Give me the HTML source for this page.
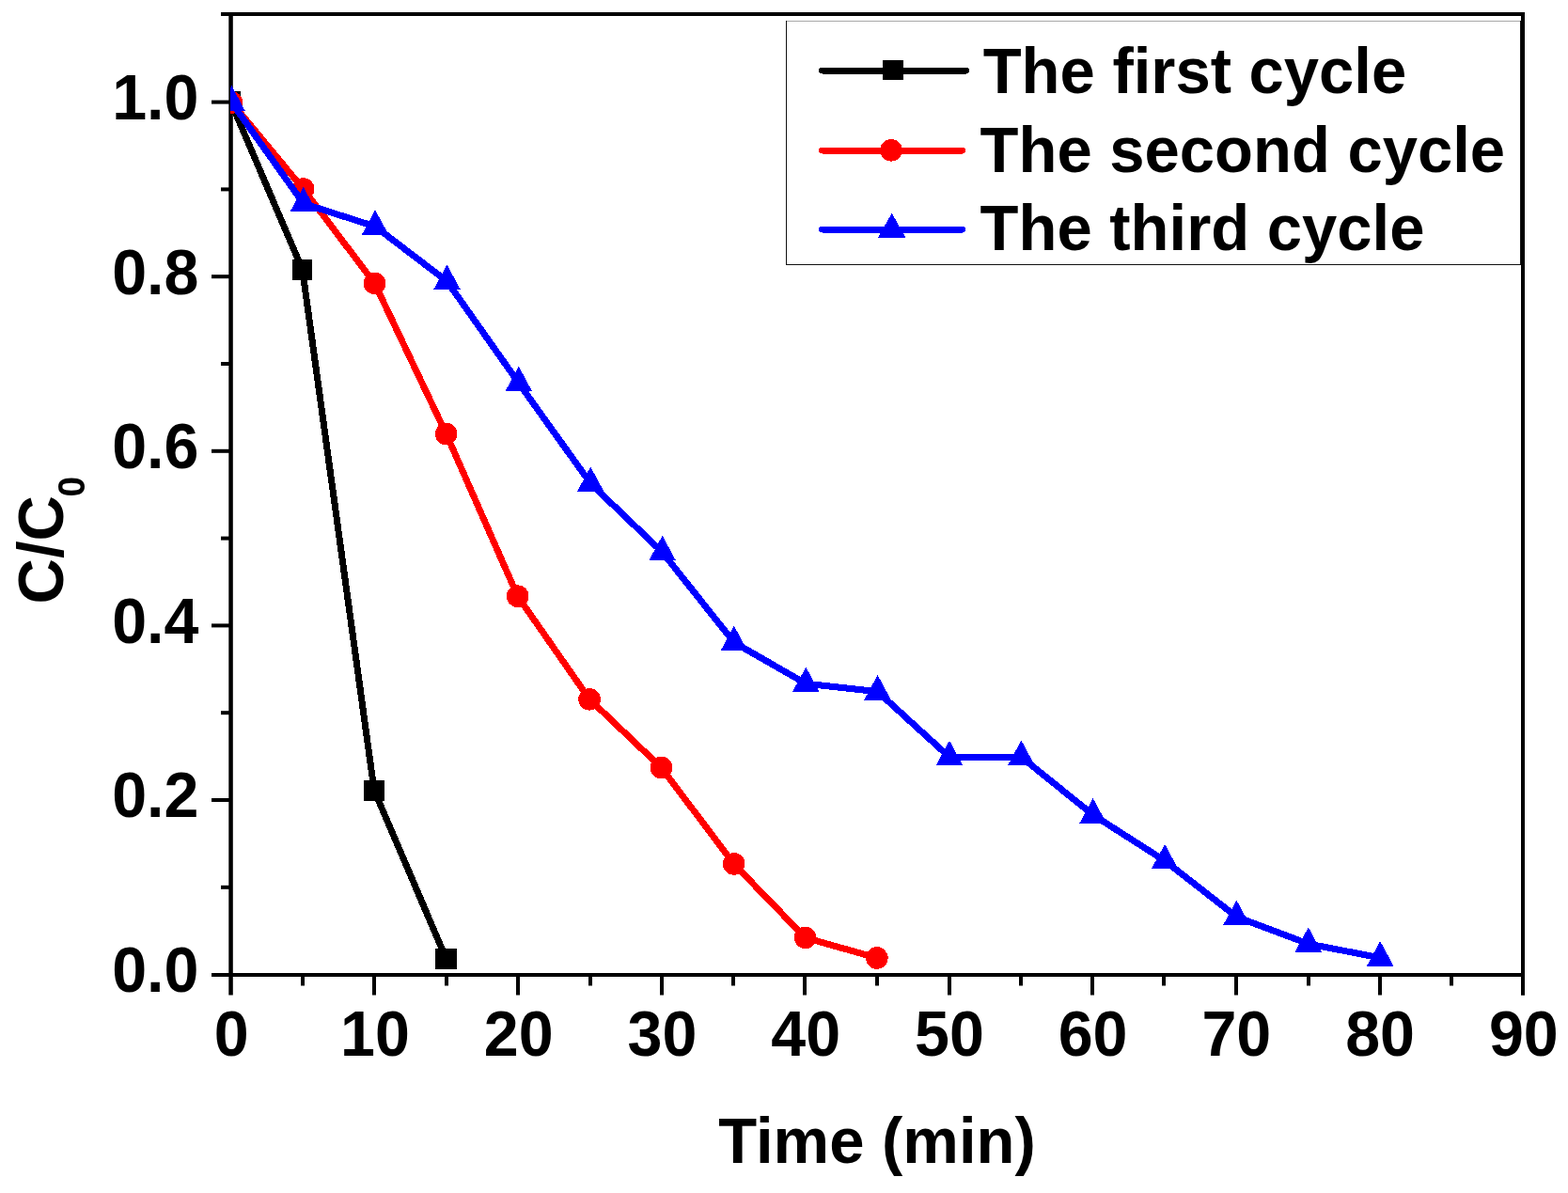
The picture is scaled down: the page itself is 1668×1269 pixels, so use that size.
<!DOCTYPE html>
<html lang="en"><head><meta charset="utf-8"><title>C/C0 versus Time</title>
<style>
html,body{margin:0;padding:0;background:#fff;}
body{width:1668px;height:1269px;overflow:hidden;}
svg{display:block;}
text{font-family:"Liberation Sans",sans-serif;font-weight:bold;fill:#000;}
.ax{fill:#000;shape-rendering:crispEdges;}
.ln{fill:none;stroke-width:7;stroke-linejoin:round;stroke-linecap:round;}
</style></head><body>
<svg width="1668" height="1269" viewBox="0 0 1668 1269">
<rect x="0" y="0" width="1668" height="1269" fill="#fff"/>
<defs><clipPath id="plot2"><rect x="245" y="17" width="1400" height="1030"/></clipPath></defs>
<g class="ax">
<rect x="235" y="13" width="1387" height="4"/>
<rect x="225" y="1035" width="1397" height="4"/>
<rect x="243.3" y="13" width="4.5" height="1045.5" shape-rendering="auto"/>
<rect x="1618" y="13" width="4" height="1045.5" shape-rendering="auto"/>
<rect x="235" y="941.8" width="10" height="4" shape-rendering="auto"/>
<rect x="225" y="849.0" width="20" height="4" shape-rendering="auto"/>
<rect x="235" y="756.2" width="10" height="4" shape-rendering="auto"/>
<rect x="225" y="663.4" width="20" height="4" shape-rendering="auto"/>
<rect x="235" y="570.6" width="10" height="4" shape-rendering="auto"/>
<rect x="225" y="477.8" width="20" height="4" shape-rendering="auto"/>
<rect x="235" y="385.0" width="10" height="4" shape-rendering="auto"/>
<rect x="225" y="292.2" width="20" height="4" shape-rendering="auto"/>
<rect x="235" y="199.4" width="10" height="4" shape-rendering="auto"/>
<rect x="225" y="106.6" width="20" height="4" shape-rendering="auto"/>
<rect x="320" y="1038" width="4" height="10.5" shape-rendering="auto"/>
<rect x="396" y="1038" width="4" height="20.5" shape-rendering="auto"/>
<rect x="473" y="1038" width="4" height="10.5" shape-rendering="auto"/>
<rect x="549" y="1038" width="4" height="20.5" shape-rendering="auto"/>
<rect x="626" y="1038" width="4" height="10.5" shape-rendering="auto"/>
<rect x="702" y="1038" width="4" height="20.5" shape-rendering="auto"/>
<rect x="778" y="1038" width="4" height="10.5" shape-rendering="auto"/>
<rect x="854" y="1038" width="4" height="20.5" shape-rendering="auto"/>
<rect x="931" y="1038" width="4" height="10.5" shape-rendering="auto"/>
<rect x="1008" y="1038" width="4" height="20.5" shape-rendering="auto"/>
<rect x="1084" y="1038" width="4" height="10.5" shape-rendering="auto"/>
<rect x="1160" y="1038" width="4" height="20.5" shape-rendering="auto"/>
<rect x="1236" y="1038" width="4" height="10.5" shape-rendering="auto"/>
<rect x="1313" y="1038" width="4" height="20.5" shape-rendering="auto"/>
<rect x="1390" y="1038" width="4" height="10.5" shape-rendering="auto"/>
<rect x="1466" y="1038" width="4" height="20.5" shape-rendering="auto"/>
<rect x="1542" y="1038" width="4" height="10.5" shape-rendering="auto"/>
</g>
<g font-size="69">
<text transform="translate(211.4 1055) scale(0.962 1)" text-anchor="end">0.0</text>
<text transform="translate(211.4 869) scale(0.962 1)" text-anchor="end">0.2</text>
<text transform="translate(211.4 684) scale(0.962 1)" text-anchor="end">0.4</text>
<text transform="translate(211.4 498) scale(0.962 1)" text-anchor="end">0.6</text>
<text transform="translate(211.4 313) scale(0.962 1)" text-anchor="end">0.8</text>
<text transform="translate(211.4 127) scale(0.962 1)" text-anchor="end">1.0</text>
<text transform="translate(246.3 1123) scale(0.962 1)" text-anchor="middle">0</text>
<text transform="translate(399.0 1123) scale(0.962 1)" text-anchor="middle">10</text>
<text transform="translate(551.7 1123) scale(0.962 1)" text-anchor="middle">20</text>
<text transform="translate(704.5 1123) scale(0.962 1)" text-anchor="middle">30</text>
<text transform="translate(857.2 1123) scale(0.962 1)" text-anchor="middle">40</text>
<text transform="translate(1009.9 1123) scale(0.962 1)" text-anchor="middle">50</text>
<text transform="translate(1162.6 1123) scale(0.962 1)" text-anchor="middle">60</text>
<text transform="translate(1315.3 1123) scale(0.962 1)" text-anchor="middle">70</text>
<text transform="translate(1468.1 1123) scale(0.962 1)" text-anchor="middle">80</text>
<text transform="translate(1620.8 1123) scale(0.962 1)" text-anchor="middle">90</text>
</g>
<text font-size="69" transform="translate(933 1236.5) scale(0.971 1)" text-anchor="middle">Time (min)</text>
<text font-size="69" transform="translate(67.3 642.5) rotate(-90) scale(0.971 1)">C/C<tspan font-size="40" dy="23" dx="-1.5">0</tspan></text>
<g clip-path="url(#plot2)" shape-rendering="crispEdges">
<polyline class="ln" stroke="#000" points="245.6,108.6 321.7,286.7 398,840.5 474.6,1019.7"/>
<rect x="234" y="97" width="22" height="22" fill="#000"/>
<rect x="311" y="276" width="21" height="22" fill="#000"/>
<rect x="387" y="830" width="22" height="22" fill="#000"/>
<rect x="463" y="1009" width="23" height="22" fill="#000"/>
<polyline class="ln" stroke="#f00" points="246.4,109 322.6,201 398.5,301.3 474.7,461.6 550.7,634.2 627.1,743.8 703.5,816.5 780.6,918.9 856.6,997.4 932.8,1019"/>
<circle cx="246.4" cy="109" r="11.8" fill="#f00"/>
<circle cx="322.6" cy="201" r="11.8" fill="#f00"/>
<circle cx="398.5" cy="301.3" r="11.8" fill="#f00"/>
<circle cx="474.7" cy="461.6" r="11.8" fill="#f00"/>
<circle cx="550.7" cy="634.2" r="11.8" fill="#f00"/>
<circle cx="627.1" cy="743.8" r="11.8" fill="#f00"/>
<circle cx="703.5" cy="816.5" r="11.8" fill="#f00"/>
<circle cx="780.6" cy="918.9" r="11.8" fill="#f00"/>
<circle cx="856.6" cy="997.4" r="11.8" fill="#f00"/>
<circle cx="932.8" cy="1019" r="11.8" fill="#f00"/>
<polyline class="ln" stroke="#00f" points="246.4,109 322.8,216.5 399.1,240.9 475.5,299.2 551.8,407.4 628.2,514.2 704.6,587.4 780.9,683.4 857.3,727.2 933.6,735.7 1010,805.3 1086.4,805.2 1162.7,866.8 1239.1,915.6 1315.4,975.2 1391.8,1004 1468.2,1018.8"/>
<polygon points="246.4,91.3 260.7,117.8 232.1,117.8" fill="#00f"/>
<polygon points="322.8,198.8 337.1,225.3 308.5,225.3" fill="#00f"/>
<polygon points="399.1,223.2 413.4,249.7 384.8,249.7" fill="#00f"/>
<polygon points="475.5,281.5 489.8,308 461.2,308" fill="#00f"/>
<polygon points="551.8,389.7 566.1,416.2 537.5,416.2" fill="#00f"/>
<polygon points="628.2,496.5 642.5,523 613.9,523" fill="#00f"/>
<polygon points="704.6,569.7 718.9,596.2 690.3,596.2" fill="#00f"/>
<polygon points="780.9,665.7 795.2,692.2 766.6,692.2" fill="#00f"/>
<polygon points="857.3,709.5 871.6,736 843,736" fill="#00f"/>
<polygon points="933.6,718 947.9,744.5 919.3,744.5" fill="#00f"/>
<polygon points="1010,787.6 1024.3,814.1 995.7,814.1" fill="#00f"/>
<polygon points="1086.4,787.5 1100.7,814 1072.1,814" fill="#00f"/>
<polygon points="1162.7,849.1 1177,875.6 1148.4,875.6" fill="#00f"/>
<polygon points="1239.1,897.9 1253.4,924.4 1224.8,924.4" fill="#00f"/>
<polygon points="1315.4,957.5 1329.7,984 1301.1,984" fill="#00f"/>
<polygon points="1391.8,986.3 1406.1,1012.8 1377.5,1012.8" fill="#00f"/>
<polygon points="1468.2,1001.1 1482.5,1027.6 1453.9,1027.6" fill="#00f"/>
</g>
<g shape-rendering="crispEdges">
<rect x="836" y="22" width="782" height="260" fill="#fff"/>
<rect x="836" y="22" width="782" height="1" fill="#a8a8a8"/>
<rect x="836" y="281" width="782" height="1" fill="#111"/>
<rect x="836" y="22" width="1" height="260" fill="#111"/>
<rect x="1617" y="22" width="1" height="260" fill="#111"/>
<rect x="1618" y="13" width="4" height="1045.5" shape-rendering="auto" fill="#000"/>
</g>
<g shape-rendering="crispEdges">
<line class="ln" stroke="#000" x1="874.5" y1="75" x2="1027.5" y2="75"/>
<rect x="939" y="63.5" width="22" height="21" fill="#000"/>
<line class="ln" stroke="#f00" x1="874.5" y1="160" x2="1023.5" y2="160"/>
<circle cx="948" cy="159.8" r="11.8" fill="#f00"/>
<line class="ln" stroke="#00f" x1="874.5" y1="244" x2="1023.5" y2="244"/>
<polygon points="948.7,226.7 963.3,252.6 934.1,252.6" fill="#00f"/>
</g>
<g font-size="69">
<text transform="translate(1045.7 98.5) scale(0.971 1)">The first cycle</text>
<text transform="translate(1042.6 183) scale(0.971 1)">The second cycle</text>
<text transform="translate(1042.6 266) scale(0.971 1)">The third cycle</text>
</g>
</svg>
</body></html>
